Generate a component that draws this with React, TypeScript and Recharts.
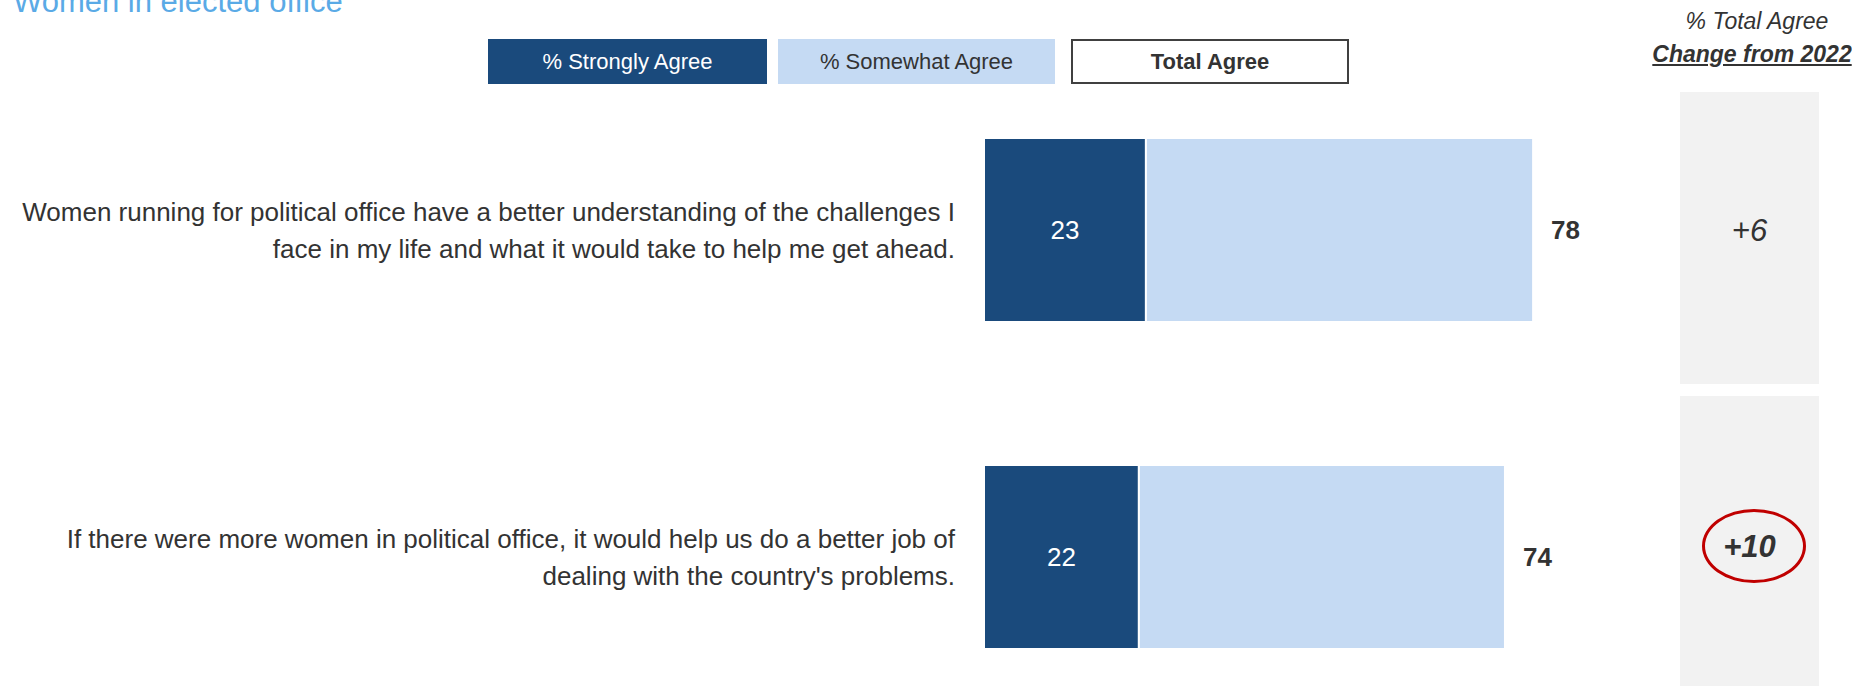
import React from "react";
import { BarChart, Bar, XAxis, YAxis, LabelList } from "recharts";

// survey items, each split into the two lines shown on the left
const statementLines = [
  [
    "Women running for political office have a better understanding of the challenges I",
    "face in my life and what it would take to help me get ahead.",
  ],
  [
    "If there were more women in political office, it would help us do a better job of",
    "dealing with the country's problems.",
  ],
];
const stronglyAgree = [23, 22];
const totalAgree = [78, 74];
const changeFrom2022 = ["+6", "+10"];
const highlighted = [false, true];

const FONT = "'Liberation Sans', Arial, sans-serif";
const DARK = "#1a4a7c";
const LIGHT = "#c5daf3";
const TEXT = "#333333";

const rows = statementLines.map((lines, i) => ({
  key: `q${i}`,
  lines,
  strong: stronglyAgree[i],
  somewhat: totalAgree[i] - stronglyAgree[i],
  total: totalAgree[i],
}));

const StatementTick = (props: any) => {
  const { x, y, payload } = props;
  const row = rows.find((r) => r.key === payload.value);
  if (!row) return null;
  return (
    <g>
      {row.lines.map((line, i) => (
        <text
          key={i}
          x={x - 21}
          y={y + (i === 0 ? -18 : 19)}
          textAnchor="end"
          dominantBaseline="central"
          fontSize={26}
          fill={TEXT}
          fontFamily={FONT}
        >
          {line}
        </text>
      ))}
    </g>
  );
};

const TotalLabel = (props: any) => {
  const { x, y, width, height, value } = props;
  return (
    <text
      x={x + width + 18}
      y={y + height / 2}
      dominantBaseline="central"
      fontSize={26}
      fontWeight="bold"
      fill={TEXT}
      fontFamily={FONT}
    >
      {value}
    </text>
  );
};

const legendBox: React.CSSProperties = {
  position: "absolute",
  top: 39,
  height: 45,
  boxSizing: "border-box",
  display: "flex",
  alignItems: "center",
  justifyContent: "center",
  fontSize: 22,
};

export default function App() {
  return (
    <div
      style={{
        position: "absolute",
        left: 0,
        top: 0,
        width: 1852,
        height: 686,
        overflow: "hidden",
        background: "#fff",
        fontFamily: FONT,
        color: TEXT,
      }}
    >
      <div
        style={{
          position: "absolute",
          left: 13,
          top: -14,
          fontSize: 31,
          lineHeight: "31px",
          color: "#5aaae6",
          whiteSpace: "nowrap",
        }}
      >
        Women in elected office
      </div>

      <div style={{ ...legendBox, left: 488, width: 279, background: DARK, color: "#fff" }}>
        % Strongly Agree
      </div>
      <div style={{ ...legendBox, left: 778, width: 277, background: LIGHT, color: TEXT }}>
        % Somewhat Agree
      </div>
      <div
        style={{
          ...legendBox,
          left: 1071,
          width: 278,
          border: "2px solid #404040",
          fontWeight: "bold",
        }}
      >
        Total Agree
      </div>

      <div
        style={{
          position: "absolute",
          left: 1642,
          width: 220,
          top: 5,
          textAlign: "center",
          fontSize: 23,
          fontStyle: "italic",
          lineHeight: "33px",
          whiteSpace: "nowrap",
        }}
      >
        <div style={{ paddingLeft: 10 }}>% Total Agree</div>
        <div style={{ fontWeight: "bold", textDecoration: "underline" }}>Change from 2022</div>
      </div>

      {changeFrom2022.map((c, i) => (
        <div
          key={i}
          style={{
            position: "absolute",
            left: 1680,
            top: 92 + i * 304,
            width: 139,
            height: 292,
            background: "#f2f2f2",
          }}
        >
          <div
            style={{
              position: "absolute",
              left: 0,
              right: 0,
              top: i === 0 ? 139 : 151,
              transform: "translateY(-50%)",
              textAlign: "center",
              fontSize: 31,
              fontStyle: "italic",
              fontWeight: highlighted[i] ? "bold" : "normal",
            }}
          >
            {c}
          </div>
          {highlighted[i] && (
            <div
              style={{
                position: "absolute",
                left: 22,
                top: 113,
                width: 104,
                height: 74,
                boxSizing: "border-box",
                border: "3px solid #c00000",
                borderRadius: "50%",
              }}
            />
          )}
        </div>
      ))}

      <div style={{ position: "absolute", left: 0, top: 0 }}>
        <BarChart
          width={1852}
          height={740}
          layout="vertical"
          data={rows}
          margin={{ top: 66, right: 164, bottom: 20, left: 0 }}
        >
          <XAxis type="number" domain={[0, 100]} hide />
          <YAxis
            type="category"
            dataKey="key"
            width={984}
            axisLine={false}
            tickLine={false}
            tick={<StatementTick />}
          />
          <Bar
            dataKey="strong"
            stackId="a"
            fill={DARK}
            stroke="#fff"
            strokeWidth={2}
            barSize={184}
            isAnimationActive={false}
          >
            <LabelList
              dataKey="strong"
              position="center"
              fill="#fff"
              fontSize={26}
              fontFamily={FONT}
            />
          </Bar>
          <Bar
            dataKey="somewhat"
            stackId="a"
            fill={LIGHT}
            stroke="#fff"
            strokeWidth={2}
            barSize={184}
            isAnimationActive={false}
          >
            <LabelList dataKey="total" content={<TotalLabel />} />
          </Bar>
        </BarChart>
      </div>
    </div>
  );
}
